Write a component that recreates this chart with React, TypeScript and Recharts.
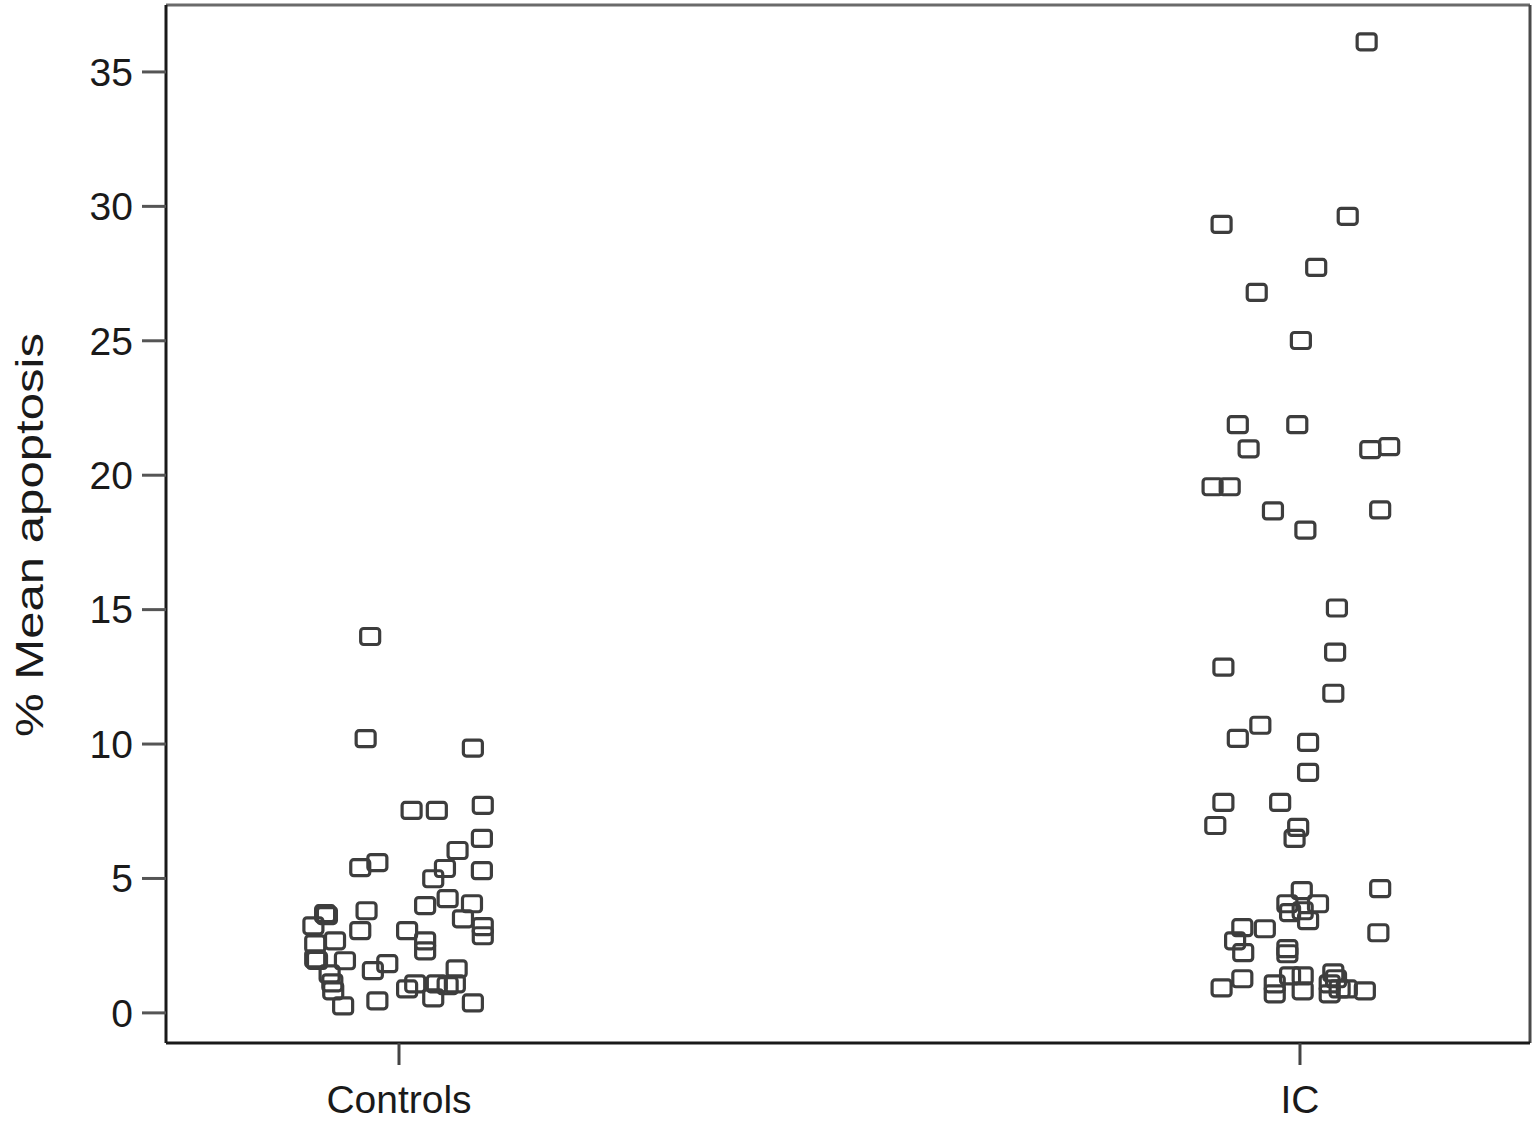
import { ReferenceLine, Scatter, ScatterChart, XAxis, YAxis } from "recharts";

// Category names and their positions on the numeric x axis.
const groups = ["Controls", "IC"];
const groupTicks = [1, 2];

// Horizontal jitter (fraction of category spacing) and % mean apoptosis per subject.
const controlsJitter = [
  -0.032, -0.037, 0.082, 0.014, 0.042, 0.093, 0.092, 0.065, 0.051, 0.092, 0.038, -0.043,
  -0.024, 0.029, 0.054, 0.081, 0.071, 0.093, 0.093, -0.036, -0.043, 0.009, 0.029, 0.029,
  -0.082, -0.08, -0.095, -0.093, -0.071, -0.093, -0.091, -0.06, -0.029, -0.013, -0.077,
  -0.074, -0.073, -0.062, -0.024, 0.009, 0.018, 0.042, 0.064, 0.062, 0.038, 0.082, 0.054,
];
const controlsValues = [
  14.0, 10.2, 9.85, 7.53, 7.53, 7.72, 6.49, 6.04, 5.37, 5.29, 4.99, 5.4,
  5.59, 3.99, 4.25, 4.06, 3.5, 3.21, 2.87, 3.8, 3.06, 3.06, 2.68, 2.31,
  3.69, 3.62, 3.24, 2.57, 2.68, 2.01, 1.95, 1.94, 1.57, 1.83, 1.45,
  1.12, 0.82, 0.26, 0.45, 0.89, 1.08, 1.08, 1.64, 1.08, 0.56, 0.37, 1.01,
];

const icJitter = [
  0.074, -0.087, 0.053, 0.018, -0.048, 0.001, -0.069, -0.003, -0.057, 0.078, 0.099, -0.097,
  -0.078, -0.03, 0.089, 0.006, 0.041, 0.039, -0.085, 0.037, -0.044, -0.069, 0.009, 0.009,
  -0.085, -0.022, -0.094, -0.002, -0.006, 0.002, 0.089, -0.014, 0.02, -0.011, 0.003, 0.009,
  0.087, -0.064, -0.039, -0.072, -0.063, -0.014, -0.014, -0.087, -0.064, -0.028, -0.028,
  -0.011, 0.003, 0.003, 0.037, 0.033, 0.033, 0.044, 0.052, 0.072, 0.04,
];
const icValues = [
  36.12, 29.33, 29.63, 27.73, 26.8, 25.01, 21.88, 21.88, 20.98, 20.95, 21.06, 19.57,
  19.57, 18.67, 18.71, 17.96, 15.06, 13.42, 12.86, 11.89, 10.7, 10.21, 10.06, 8.95,
  7.83, 7.83, 6.97, 6.9, 6.49, 4.55, 4.62, 4.06, 4.06, 3.73, 3.8, 3.43,
  2.98, 3.17, 3.13, 2.68, 2.24, 2.39, 2.2, 0.93, 1.27, 1.08, 0.71,
  1.38, 1.38, 0.82, 1.49, 1.08, 0.71, 0.89, 0.89, 0.82, 1.27,
];

const yTicks = [0, 5, 10, 15, 20, 25, 30, 35];

const controlsData = controlsValues.map((v, i) => ({ x: groupTicks[0] + controlsJitter[i], y: v }));
const icData = icValues.map((v, i) => ({ x: groupTicks[1] + icJitter[i], y: v }));

const X_DOMAIN: [number, number] = [0.7414, 2.2553];
const Y_DOMAIN: [number, number] = [-1.12, 37.49];

const FONT = "'Liberation Sans', Arial, Helvetica, sans-serif";

// open square marker, like the original strip plot
function SquareMarker(props: any) {
  const { cx, cy } = props;
  if (cx == null || cy == null) return null;
  return (
    <rect
      x={cx - 9.5}
      y={cy - 8}
      width={19}
      height={16}
      rx={3}
      fill="none"
      stroke="#3d3d3d"
      strokeWidth={3.2}
    />
  );
}

function YLabel() {
  return (
    <text
      transform="translate(43, 535) rotate(-90)"
      textAnchor="middle"
      fontFamily={FONT}
      fontSize={39}
      fill="#1a1a1a"
      textLength={404}
      lengthAdjust="spacingAndGlyphs"
    >
      % Mean apoptosis
    </text>
  );
}

export default function App() {
  return (
    <div style={{ position: "absolute", left: 0, top: 0, background: "#fff" }}>
      <ScatterChart width={1536} height={1126} margin={{ top: 5, right: 6, bottom: 0, left: 0 }}>
        <ReferenceLine y={Y_DOMAIN[1]} stroke="#6a6a6a" strokeWidth={3} />
        <ReferenceLine x={X_DOMAIN[1]} stroke="#4a4a4a" strokeWidth={3} />
        <XAxis
          type="number"
          dataKey="x"
          domain={X_DOMAIN}
          ticks={groupTicks}
          tickFormatter={(v: number) => groups[groupTicks.indexOf(v)] ?? ""}
          height={83}
          tickSize={22}
          tickMargin={20}
          axisLine={{ stroke: "#1a1a1a", strokeWidth: 3 }}
          tickLine={{ stroke: "#444", strokeWidth: 3 }}
          tick={{ fontSize: 39, fill: "#1a1a1a", fontFamily: FONT }}
          allowDataOverflow
        />
        <YAxis
          type="number"
          dataKey="y"
          domain={Y_DOMAIN}
          ticks={yTicks}
          width={166}
          tickSize={24}
          tickMargin={9}
          axisLine={{ stroke: "#1a1a1a", strokeWidth: 3 }}
          tickLine={{ stroke: "#555", strokeWidth: 3 }}
          tick={{ fontSize: 39, fill: "#1a1a1a", fontFamily: FONT }}
          label={{ content: () => <YLabel /> }}
          allowDataOverflow
        />
        <Scatter data={controlsData} shape={SquareMarker} isAnimationActive={false} />
        <Scatter data={icData} shape={SquareMarker} isAnimationActive={false} />
      </ScatterChart>
    </div>
  );
}
